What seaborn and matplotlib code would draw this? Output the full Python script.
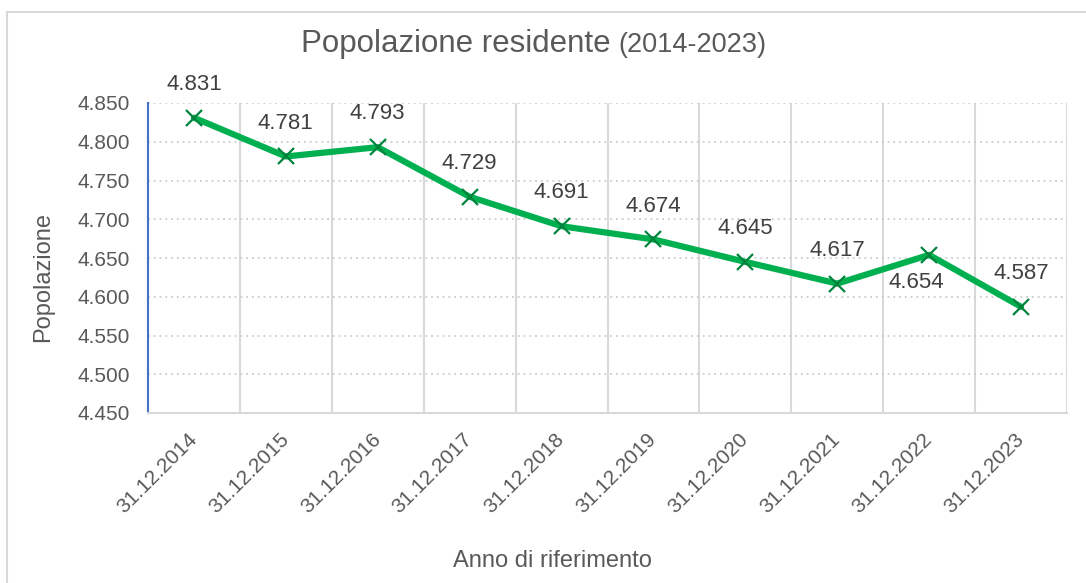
import numpy as np
import pandas as pd
import matplotlib
matplotlib.use("Agg")
import matplotlib.pyplot as plt
import seaborn as sns
from matplotlib.patches import Rectangle
from matplotlib.ticker import FuncFormatter, FixedLocator

# dati
anni = ["31.12.2014", "31.12.2015", "31.12.2016", "31.12.2017", "31.12.2018",
        "31.12.2019", "31.12.2020", "31.12.2021", "31.12.2022", "31.12.2023"]
popolazione = [4831, 4781, 4793, 4729, 4691, 4674, 4645, 4617, 4654, 4587]
y_ticks = [4450, 4500, 4550, 4600, 4650, 4700, 4750, 4800, 4850]

df = pd.DataFrame({"anno": anni, "popolazione": popolazione})

sns.set_style("white")
plt.rcParams["font.family"] = ["Liberation Sans", "DejaVu Sans"]

W, H = 1086, 583
fig = plt.figure(figsize=(W / 100, H / 100), dpi=100)
ax = fig.add_axes([148 / W, 1 - 413 / H, (1067 - 148) / W, (413 - 103) / H])

sns.lineplot(data=df, x="anno", y="popolazione", ax=ax, color="#00B050",
             linewidth=4.5, marker="x", markersize=12, markeredgewidth=1.6,
             markeredgecolor="#00843D", sort=False)

ax.set_xlim(-0.5, len(anni) - 0.5)
ax.set_ylim(y_ticks[0], y_ticks[-1])

# asse y
ax.yaxis.set_major_locator(FixedLocator(y_ticks))
ax.yaxis.set_major_formatter(FuncFormatter(lambda v, p: f"{int(v):,}".replace(",", ".")))
ax.tick_params(axis="y", length=0, pad=13, labelsize=15, labelcolor="#595959")
ax.grid(axis="y", which="major", color="#CCCCCC", linestyle=(0, (1, 2.2)), linewidth=1.3)

# asse x
ax.set_xticks(range(len(anni)))
ax.set_xticklabels(anni, rotation=45, ha="right", va="center", rotation_mode="anchor")
ax.tick_params(axis="x", which="major", length=0, pad=17, labelsize=15, labelcolor="#595959")
ax.set_xticks(np.arange(-0.5, len(anni)), minor=True)
ax.tick_params(axis="x", which="minor", length=6, width=1.5, color="#D9D9D9")
ax.grid(axis="x", which="minor", color="#D9D9D9", linestyle="-", linewidth=1.5)
ax.grid(axis="x", which="major", visible=False)

ax.set_xlabel("")
ax.set_ylabel("")
for s in ["top", "right"]:
    ax.spines[s].set_visible(False)
ax.spines["bottom"].set_color("#D9D9D9")
ax.spines["bottom"].set_linewidth(1.5)
ax.spines["left"].set_color("#4472C4")
ax.spines["left"].set_linewidth(1.5)
ax.set_axisbelow(True)

# etichette dati
for i, v in enumerate(popolazione):
    testo = f"{v:,}".replace(",", ".")
    if anni[i] == "31.12.2022":
        off = (-9, -20)
    else:
        off = (0, 24)
    ax.annotate(testo, (i, v), xytext=off, textcoords="offset points",
                ha="center", va="center", fontsize=16, color="#404040")

# titolo
fig.text(301 / W, 1 - 52 / H, "Popolazione residente", fontsize=22.5,
         color="#595959", ha="left", va="baseline")
fig.text(618 / W, 1 - 52 / H, "(2014-2023)", fontsize=19.5,
         color="#595959", ha="left", va="baseline")

# titoli assi
fig.text(552 / W, 1 - 567 / H, "Anno di riferimento", fontsize=17,
         color="#595959", ha="center", va="baseline")
fig.text(43 / W, 1 - 277 / H, "Popolazione", fontsize=17, rotation=90,
         color="#595959", ha="center", va="center")

# bordo del grafico
fig.patches.append(Rectangle((7 / W, -0.1), 1.2, 1 - 12 / H + 0.1,
                             transform=fig.transFigure, fill=False,
                             edgecolor="#D9D9D9", linewidth=1.5))

fig.savefig("out.png", dpi=100)
